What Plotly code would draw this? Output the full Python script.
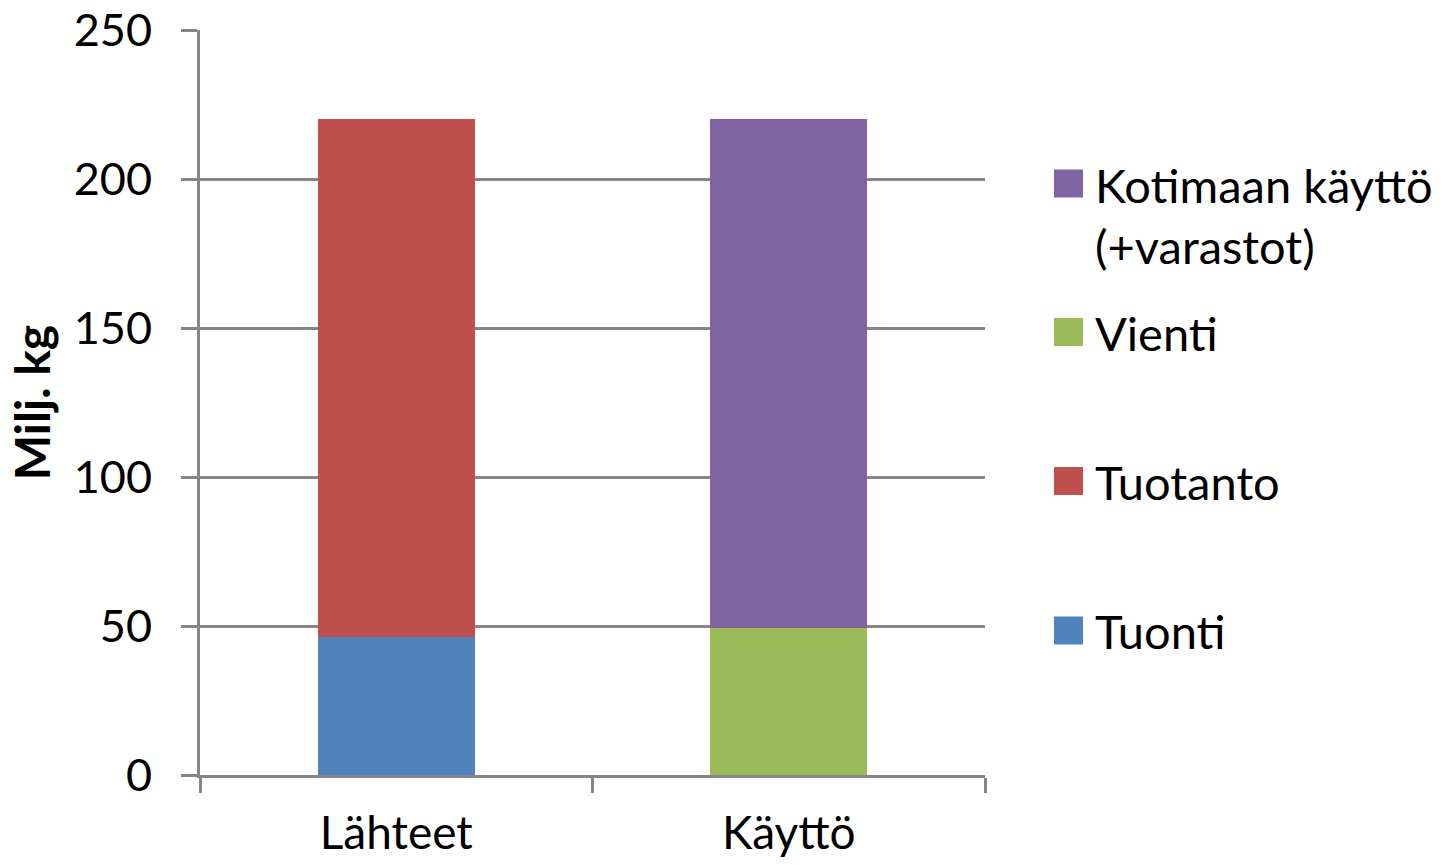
import plotly.graph_objects as go

# Data (million kg)
categories = ["Lähteet", "Käyttö"]
tuonti = [46.2, 0]
tuotanto = [173.8, 0]
vienti = [0, 49.4]
kotimaan = [0, 170.6]

series_names = ["Tuonti", "Tuotanto", "Vienti", "Kotimaan käyttö<br>(+varastot)"]
series_values = [tuonti, tuotanto, vienti, kotimaan]
series_colors = ["#4F81BD", "#C0504D", "#9BBB59", "#8064A2"]

y_ticks = [0, 50, 100, 150, 200, 250]

FONT = "Lato, Carlito, Calibri, sans-serif"
W, H = 1447, 865
L, R, T, B = 200, 462, 30, 90

fig = go.Figure()
for name, vals, col in zip(series_names, series_values, series_colors):
    fig.add_trace(go.Bar(x=categories, y=vals, name=name, marker_color=col,
                         marker_line_width=0, showlegend=False))

# Custom legend: large square swatches with labels, top item first
def px_x(px):
    return (px - L) / (W - L - R)

def px_y(py):
    return (H - B - py) / (H - T - B)

# (series index, swatch centre y, text centre y)
legend_rows = [(3, 183.5, 216), (2, 332, 333), (1, 481, 482), (0, 630.5, 631)]
shapes = []
annotations = []
for idx, cy, ty in legend_rows:
    shapes.append(dict(type="rect", xref="paper", yref="paper",
                       x0=px_x(1054), x1=px_x(1083),
                       y0=px_y(cy + 14), y1=px_y(cy - 14),
                       fillcolor=series_colors[idx], line_width=0))
    annotations.append(dict(xref="paper", yref="paper", x=px_x(1093),
                            y=px_y(ty), xanchor="left", yanchor="middle",
                            text=series_names[idx], showarrow=False, align="left",
                            font=dict(family=FONT, size=47, color="#000000")))

fig.update_layout(
    width=W, height=H,
    margin=dict(l=L, r=R, t=T, b=B, autoexpand=False),
    barmode="stack",
    bargap=0.6,
    plot_bgcolor="white", paper_bgcolor="white",
    font=dict(family=FONT, size=44, color="#000000"),
    shapes=shapes,
    annotations=annotations,
    xaxis=dict(
        showline=True, linecolor="#868686", linewidth=3,
        ticks="outside", ticklen=15, tickwidth=2.5, tickcolor="#868686",
        tickson="boundaries", showgrid=False,
        tickfont=dict(family=FONT, size=46),
        ticklabelstandoff=16,
    ),
    yaxis=dict(
        range=[0, 250], tickvals=y_ticks,
        showline=True, linecolor="#868686", linewidth=3,
        ticks="outside", ticklen=16, tickwidth=2.5, tickcolor="#868686",
        showgrid=True, gridcolor="#868686", gridwidth=2.5,
        zeroline=False,
        tickfont=dict(family=FONT, size=45),
        ticklabelstandoff=20,
        title=dict(text="<b>Milj. kg</b>", font=dict(family=FONT, size=48), standoff=8),
    ),
)

fig.write_html("out.html")
